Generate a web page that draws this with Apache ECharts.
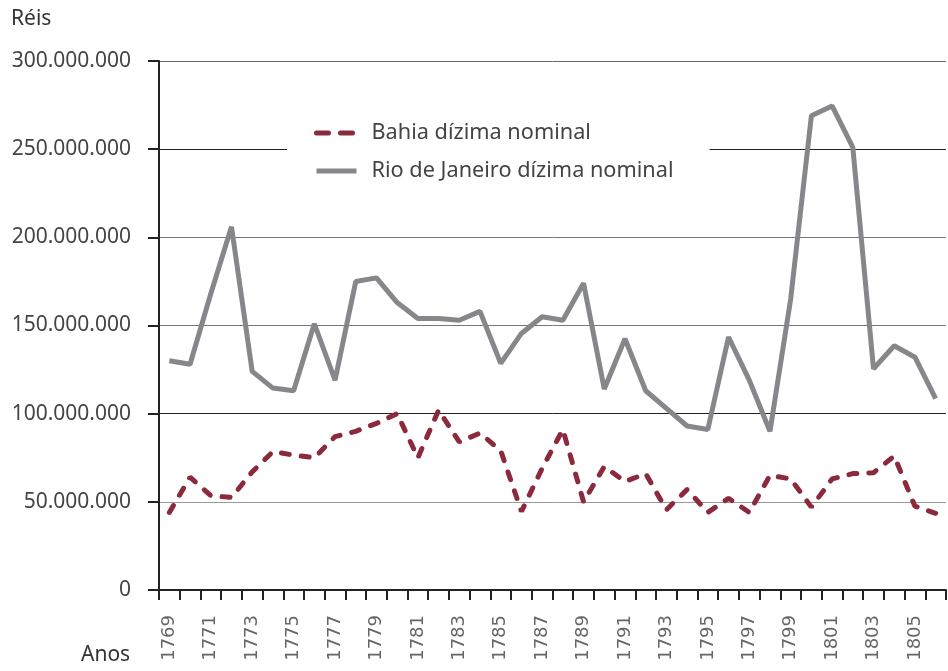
<!DOCTYPE html>
<html>
<head>
<meta charset="utf-8" />
<script src="https://cdn.jsdelivr.net/npm/echarts@6/dist/echarts.min.js"></script>
<style>
  html, body { margin: 0; padding: 0; background: #fff; }
  #main { width: 948px; height: 671px; }
</style>
</head>
<body>
<div id="main"></div>
<script>
var years = [
  '1769', '1770', '1771', '1772', '1773', '1774', '1775', '1776', '1777', '1778',
  '1779', '1780', '1781', '1782', '1783', '1784', '1785', '1786', '1787', '1788',
  '1789', '1790', '1791', '1792', '1793', '1794', '1795', '1796', '1797', '1798',
  '1799', '1800', '1801', '1802', '1803', '1804', '1805', '1806'
];

// values in millions of réis
var bahia = [
  44, 64, 53.5, 52.5, 67, 78.5, 76.5, 75, 87, 90,
  94.5, 100, 75, 102, 84, 89, 79, 44.5, 69, 91,
  50, 70, 61.5, 66, 45.5, 57, 44, 52, 44, 65,
  63, 47, 63, 66, 66.5, 76, 47.5, 43.5
];
var rio = [
  130, 128, 168, 206, 124, 114.5, 113, 151, 119, 175,
  177, 163, 154, 154, 153, 158, 128.5, 145.5, 155, 153,
  174, 114, 142.5, 113, 103, 93, 91, 143.5, 119, 90,
  165, 269, 274.5, 251, 125.5, 138.5, 132, 108.5
];

var seriesNames = ['Bahia dízima nominal', 'Rio de Janeiro dízima nominal'];

function toReis(arr) {
  return arr.map(function (v) { return Math.round(v * 1000000); });
}

function dotted(v) {
  return String(v).replace(/\B(?=(\d{3})+(?!\d))/g, '.');
}

var chart = echarts.init(document.getElementById('main'));

var noSymbol = { color: 'rgba(0,0,0,0)', borderWidth: 0 };

chart.setOption({
  animation: false,
  backgroundColor: '#fff',
  title: [
    {
      text: 'Réis', left: 6, top: 4,
      textStyle: { fontFamily: 'Noto Sans', fontSize: 21, fontWeight: 'normal', color: '#333' }
    },
    {
      text: 'Anos', left: 76, top: 640,
      textStyle: { fontFamily: 'Noto Sans', fontSize: 21, fontWeight: 'normal', color: '#333' }
    }
  ],
  legend: {
    orient: 'vertical',
    left: 287,
    top: 110,
    padding: [12, 36, 12, 27],
    backgroundColor: '#fff',
    itemWidth: 40,
    itemHeight: 14,
    itemGap: 16,
    textStyle: { fontFamily: 'Noto Sans', fontSize: 21.7, color: '#444', padding: [0, 0, 0, 10] },
    data: [
      {
        name: seriesNames[0],
        itemStyle: noSymbol,
        lineStyle: { type: [12, 12], cap: 'round', width: 5, color: '#8b2a3d' }
      },
      {
        name: seriesNames[1],
        itemStyle: noSymbol,
        lineStyle: { width: 5, color: '#86878a' }
      }
    ]
  },
  grid: { left: 159, right: 2, top: 61, bottom: 81, containLabel: false },
  xAxis: {
    type: 'category',
    data: years,
    boundaryGap: true,
    axisLine: { lineStyle: { color: '#222', width: 2 } },
    axisTick: { show: true, interval: 0, length: 10, lineStyle: { color: '#222', width: 2 } },
    axisLabel: {
      interval: 1,
      rotate: 90,
      margin: 25,
      fontFamily: 'DejaVu Sans',
      fontSize: 18,
      color: '#666'
    },
    splitLine: { show: false }
  },
  yAxis: {
    type: 'value',
    min: 0,
    max: 300000000,
    interval: 50000000,
    axisLine: { show: true, lineStyle: { color: '#222', width: 2 } },
    axisTick: { show: true, length: 11, lineStyle: { color: '#222', width: 2 } },
    axisLabel: {
      margin: 28,
      fontFamily: 'Noto Sans',
      fontSize: 21,
      color: '#444',
      formatter: dotted
    },
    splitLine: {
      show: true,
      lineStyle: { width: 1, color: ['#222', '#999', '#222', '#777', '#777', '#222', '#666'] }
    }
  },
  series: [
    {
      name: seriesNames[0],
      type: 'line',
      data: toReis(bahia),
      symbol: 'none',
      lineStyle: { color: '#8b2a3d', width: 5, type: [8, 12], cap: 'round' },
      itemStyle: { color: '#8b2a3d' },
      z: 3
    },
    {
      name: seriesNames[1],
      type: 'line',
      data: toReis(rio),
      symbol: 'none',
      lineStyle: { color: '#86878a', width: 5 },
      itemStyle: { color: '#86878a' },
      z: 2
    }
  ]
});
</script>
</body>
</html>
